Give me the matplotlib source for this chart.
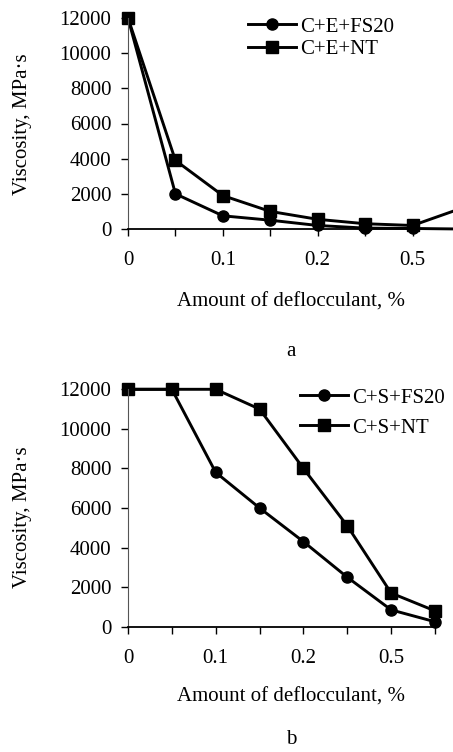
import matplotlib
matplotlib.use("Agg")
import matplotlib.pyplot as plt

plt.rcParams['font.family'] = ['Liberation Serif', 'DejaVu Serif']

# categories along x (only every other one gets a label)
amounts = ["0", "0.05", "0.1", "0.15", "0.2", "0.25", "0.5", "1"]
shown = ["0", "", "0.1", "", "0.2", "", "0.5", ""]

# panel a
e_fs20 = [12000, 2000, 750, 500, 200, 50, 30, 0]
e_nt = [12000, 3900, 1900, 1000, 550, 300, 200, 1150]

# panel b
s_fs20 = [12000, 12000, 7800, 6000, 4300, 2500, 850, 250]
s_nt = [12000, 12000, 12000, 11000, 8000, 5100, 1700, 800]

yticks = [0, 2000, 4000, 6000, 8000, 10000, 12000]
fs = 15

fig = plt.figure(figsize=(4.53, 7.52), dpi=100)
ax1 = fig.add_axes([128/453, 1-229/752, 332/453, 211/752])
ax2 = fig.add_axes([128/453, 1-626.7/752, 307/453, 237.4/752])


def style(ax, n, legend_xy, spacing, names, fs20, nt):
    x = list(range(n))
    ax.plot(x, fs20[:n], color='black', lw=2.1, marker='o', ms=8, label=names[0], clip_on=False)
    ax.plot(x, nt[:n], color='black', lw=2.1, marker='s', ms=8.5, label=names[1], clip_on=False)
    ax.set_xlim(0, n - 1)
    ax.set_ylim(0, 12000)
    ax.set_yticks(yticks)
    ax.set_xticks(x)
    ax.set_xticklabels(shown[:n])
    ax.tick_params(axis='both', labelsize=fs, direction='out', length=5, width=1)
    ax.tick_params(axis='x', pad=11)
    ax.tick_params(axis='y', pad=7)
    ax.spines['top'].set_visible(False)
    ax.spines['right'].set_visible(False)
    ax.spines['left'].set_color('#555555')
    ax.spines['bottom'].set_linewidth(1.3)
    ax.legend(loc='upper left', bbox_to_anchor=legend_xy, bbox_transform=fig.transFigure,
              frameon=False, fontsize=fs, borderpad=0, borderaxespad=0,
              handlelength=2.3, handletextpad=0.2, labelspacing=spacing)


style(ax1, 8, (248/453, 1-17/752), 0.15, ["C+E+FS20", "C+E+NT"], e_fs20, e_nt)
style(ax2, 8, (300/453, 1-388/752), 0.5, ["C+S+FS20", "C+S+NT"], s_fs20, s_nt)

fig.text(23/453, 1-124/752, "Viscosity, MPa·s", rotation=90, ha='center', va='center', fontsize=fs)
fig.text(23/453, 1-517/752, "Viscosity, MPa·s", rotation=90, ha='center', va='center', fontsize=fs)
fig.text(291/453, 1-302/752, "Amount of deflocculant, %", ha='center', va='center', fontsize=fs)
fig.text(291/453, 1-697/752, "Amount of deflocculant, %", ha='center', va='center', fontsize=fs)
fig.text(291/453, 1-352/752, "a", ha='center', va='center', fontsize=fs)
fig.text(291/453, 1-740/752, "b", ha='center', va='center', fontsize=fs)

fig.savefig("out.png", dpi=100)
